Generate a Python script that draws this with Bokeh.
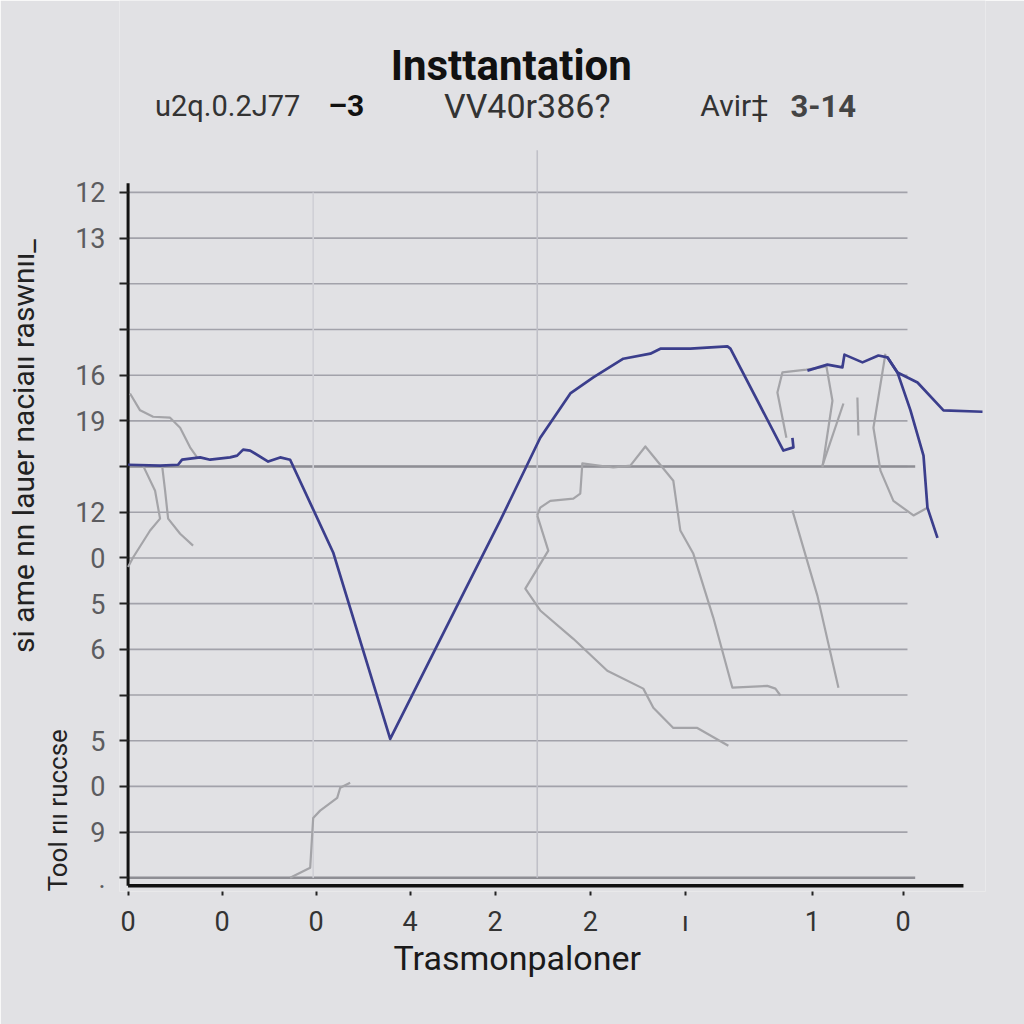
from bokeh.plotting import figure
from bokeh.models import Range1d, FixedTicker, Label, Title
from bokeh.embed import file_html
from bokeh.resources import INLINE

# ---------------- data ----------------
# blue series (three strokes)
blue_a_x = [0.0, 3.73, 5.83, 6.30, 8.40, 9.57, 11.90, 12.72, 13.42, 14.24, 16.34, 17.74, 18.90,
            23.92, 30.57, 39.09, 43.41, 48.07, 51.58, 54.26, 57.76, 60.91, 62.08, 65.58, 69.90,
            70.25, 76.43, 77.60, 77.48]
blue_a_y = [9.04, 9.02, 9.04, 9.15, 9.20, 9.15, 9.20, 9.24, 9.37, 9.35, 9.11, 9.20, 9.15,
            7.12, 3.04, 6.22, 7.82, 9.63, 10.60, 10.95, 11.36, 11.47, 11.58, 11.58, 11.63,
            11.58, 9.35, 9.42, 9.63]
blue_b_x = [79.23, 81.56, 83.31, 83.55, 85.65, 87.51, 88.56, 89.73, 92.07, 95.10, 99.65]
blue_b_y = [11.10, 11.23, 11.17, 11.45, 11.28, 11.43, 11.39, 11.06, 10.84, 10.23, 10.20]
blue_c_x = [88.56, 89.73, 91.25, 92.77, 93.23, 94.40]
blue_c_y = [11.39, 11.06, 10.23, 9.24, 8.10, 7.44]

# grey series (several strokes)
grey_xs = [
    [0.23, 1.40, 2.92, 4.90, 6.07, 7.23, 8.05],
    [1.75, 3.15, 3.73, 2.57, 0.58, 0.0],
    [3.97, 4.32, 4.67, 6.07, 7.58],
    [18.90, 21.24, 21.59, 22.40, 24.39, 24.74, 25.90],
    [47.72, 48.07, 49.24, 51.93, 52.74, 52.98, 56.59, 58.58, 60.33, 63.59, 64.41, 65.93,
     68.26, 70.48, 74.56, 75.50, 76.08],
    [47.72, 49.01, 46.33, 48.07, 51.93, 55.89, 60.09, 61.26, 63.59, 66.39, 70.01],
    [76.78, 75.73, 76.31, 79.11, 81.45],
    [81.45, 82.15, 80.98],
    [83.43, 80.98],
    [85.06, 85.18],
    [88.33, 86.93, 87.75, 89.26, 91.60, 93.23],
    [77.48, 80.40, 82.85],
]
grey_ys = [
    [10.60, 10.23, 10.09, 10.07, 9.85, 9.42, 9.20],
    [9.02, 8.47, 7.86, 7.60, 7.01, 6.80],
    [9.02, 8.47, 7.86, 7.53, 7.27],
    [0.0, 0.22, 1.31, 1.47, 1.75, 1.97, 2.08],
    [7.93, 8.10, 8.25, 8.30, 8.41, 9.07, 8.98, 9.02, 9.44, 8.69, 7.60, 7.09,
     5.69, 4.16, 4.20, 4.14, 3.99],
    [7.93, 7.16, 6.33, 5.85, 5.23, 4.53, 4.14, 3.72, 3.28, 3.28, 2.89],
    [9.63, 10.62, 11.06, 11.12, 11.19],
    [11.19, 10.44, 8.98],
    [10.38, 9.02],
    [10.51, 9.68],
    [11.47, 9.85, 8.91, 8.25, 7.93, 8.10],
    [8.04, 6.17, 4.16],
]

# ticks and labels
x_ticks = [0.0, 10.97, 21.94, 32.9, 42.8, 53.9, 64.98, 79.8, 90.4]
x_tick_labels = ["0", "0", "0", "4", "2", "2", "ı", "1", "0"]
y_ticks = list(range(0, 16))
y_tick_labels = [".", "9", "0", "5", "", "6", "5", "0", "12", "", "19", "16", "", "", "13", "12"]

grid_levels = list(range(0, 16))
title_text = "Insttantation"
sub_texts = ["u2q.0.2J77", "–3", "VV40r386?", "Avir‡", "3-14"]
x_title = "Trasmonpaloner"
y_title_main = "si ame nn lauer naciaıı raswnıı_"
y_title_low = "Tool rıı ruccse"

BG = "#e1e1e4"
BLUE = "#3b3e8c"
GREY = "#a4a4a8"

p = figure(width=1024, height=1024, output_backend="svg", toolbar_location=None,
           title_location=None,
           x_range=Range1d(-1, 100), y_range=Range1d(-0.3, 19.2),
           min_border_left=119, min_border_right=39, min_border_top=0, min_border_bottom=133)
p.background_fill_color = BG
p.border_fill_color = BG
p.outline_line_color = None
p.xgrid.visible = False
p.ygrid.visible = False

# axes
p.xaxis.ticker = FixedTicker(ticks=x_ticks)
p.xaxis.major_label_overrides = {t: l for t, l in zip(x_ticks, x_tick_labels)}
p.xaxis.axis_line_color = None
p.xaxis.major_tick_in = 0
p.xaxis.major_tick_out = 4
p.xaxis.major_tick_line_color = "#222222"
p.xaxis.major_tick_line_width = 2
p.xaxis.minor_tick_line_color = None
p.xaxis.major_label_text_font = "Roboto"
p.xaxis.major_label_text_font_size = "27px"
p.xaxis.major_label_text_color = "#333333"
p.xaxis.major_label_standoff = 10

p.yaxis.ticker = FixedTicker(ticks=y_ticks)
p.yaxis.major_label_overrides = {t: l for t, l in zip(y_ticks, y_tick_labels)}
p.yaxis.axis_line_color = None
p.yaxis.major_tick_in = 9
p.yaxis.major_tick_out = 0
p.yaxis.major_tick_line_color = "#222222"
p.yaxis.major_tick_line_width = 2
p.yaxis.minor_tick_line_color = None
p.yaxis.major_label_text_font = "Roboto"
p.yaxis.major_label_text_font_size = "27px"
p.yaxis.major_label_text_color = "#5c5c60"
p.yaxis.major_label_standoff = 14

# titles outside the frame
p.add_layout(Title(text=y_title_low, text_font="Roboto", text_font_size="26px",
                   text_font_style="normal", text_color="#222222", align="left",
                   offset=0, standoff=0), "left")
p.add_layout(Title(text=y_title_main, text_font="Roboto", text_font_size="30px",
                   text_font_style="normal", text_color="#222222", align="center",
                   offset=0, standoff=0), "left")
p.add_layout(Title(text=x_title, text_font="Roboto", text_font_size="34px",
                   text_font_style="normal", text_color="#1a1a1a", align="left",
                   offset=274, standoff=-10), "below")

# grid lines
p.segment(x0=[0] * len(grid_levels), y0=grid_levels, x1=[90.9] * len(grid_levels), y1=grid_levels,
          line_color="#a2a2aa", line_width=1.6)
p.segment(x0=[0, 0], y0=[9, 0], x1=[91.8, 91.8], y1=[9, 0], line_color="#8e8e94", line_width=2.4)
p.segment(x0=[21.59, 47.72], y0=[0, 0], x1=[21.59, 47.72], y1=[15, 15.92],
          line_color=["#d0d0d6", "#c0c0c8"], line_width=1.6)

# axis lines
p.segment(x0=[0], y0=[-0.175], x1=[97.43], y1=[-0.175], line_color="#111111", line_width=3.5)
p.segment(x0=[0], y0=[-0.175], x1=[0], y1=[15.2], line_color="#111111", line_width=3)

# series
p.multi_line(xs=grey_xs, ys=grey_ys, line_color=GREY, line_width=2.2, line_join="round")
p.multi_line(xs=[blue_a_x, blue_b_x, blue_c_x], ys=[blue_a_y, blue_b_y, blue_c_y],
             line_color=BLUE, line_width=2.7, line_join="round")

# texts inside the (extended) frame
def lab(x, y, t, size, color="#222222", bold=False, align="left"):
    p.add_layout(Label(x=x, y=y, text=t, text_font="Roboto", text_font_size=size,
                       text_color=color, text_font_style="bold" if bold else "normal",
                       text_align=align, text_baseline="middle"))

lab(44.69, 17.78, title_text, "42px", "#111111", bold=True, align="center")
lab(3.15, 16.90, sub_texts[0], "29px", "#333333")
lab(23.34, 16.90, sub_texts[1], "30px", "#111111", bold=True)
lab(46.56, 16.90, sub_texts[2], "34px", "#333333", align="center")
lab(66.74, 16.90, sub_texts[3], "30px", "#333333")
lab(77.25, 16.90, sub_texts[4], "31px", "#444444", bold=True)

open("out.html", "w").write(file_html(p, INLINE))
